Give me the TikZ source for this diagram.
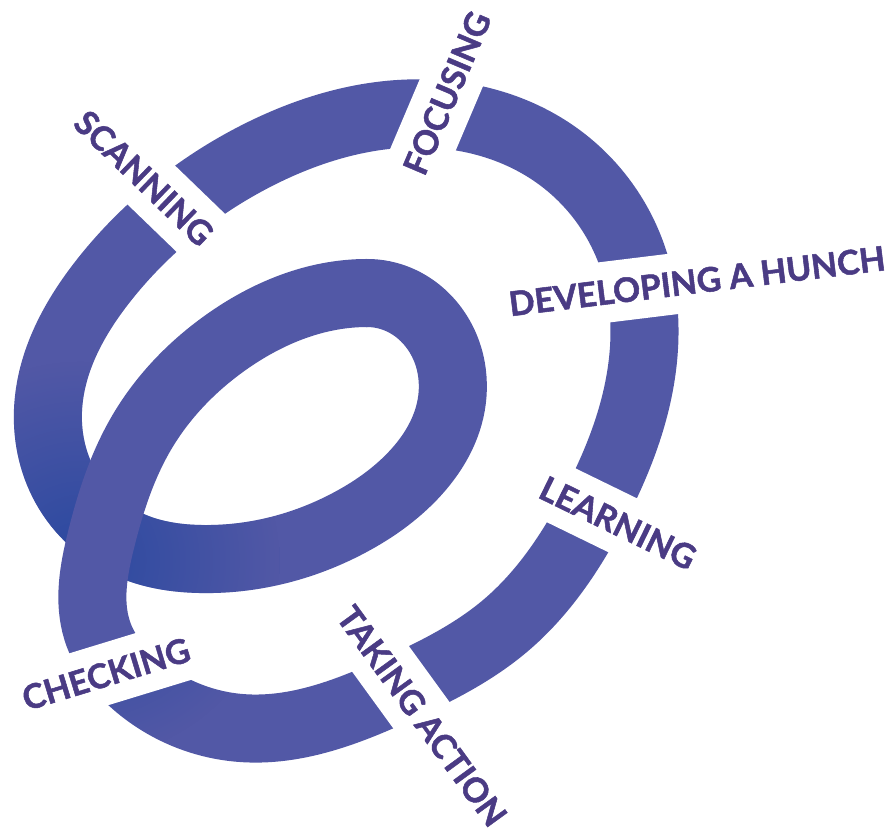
\documentclass[tikz,border=0pt]{standalone}
\usepackage{fontspec}
\setmainfont{Lato}[BoldFeatures={FakeBold=1.5}]
\usetikzlibrary{fadings,hobby}
\definecolor{bandblue}{HTML}{5258A6}
\definecolor{bandshadow}{HTML}{2A49A0}
\definecolor{labelpurple}{HTML}{4A3B84}
\pgfdeclareradialshading{loopshadow}{\pgfpointorigin}{color(0bp)=(pgftransparent!0); color(50bp)=(pgftransparent!100)}
\pgfdeclarefading{loopshadow}{\pgfuseshading{loopshadow}}
\tikzset{
  band/.style={line width=0.68cm, draw=bandblue, use Hobby shortcut},
  stage/.style={fill=white, text=labelpurple, font=\bfseries\fontsize{9.6}{12}\selectfont, inner xsep=0.06cm, inner ysep=0.18cm}
}
\begin{document}
\begin{tikzpicture}[x=0.01cm, y=-0.01cm]
\useasboundingbox (0,0) rectangle (890,830);
\draw[band] ([out angle=0]367,293) .. (452,373) .. (363,515) .. (200,559) .. (137,548) .. (68,491) .. (48,410) .. (104,280) .. (258,155) .. (437,114) .. (559,157) .. (636,268) .. (643,360) .. (594,508) .. (505,626) .. (400,688) .. (241,728) .. (116,664);
\draw[band, draw=bandshadow, path fading=loopshadow, fit fading=false, fading transform={shift={(80,560)}, scale=1.13}] ([out angle=0]367,293) .. (452,373) .. (363,515) .. (200,559) .. (137,548) .. (68,491) .. (48,410) .. (104,280) .. (258,155) .. (437,114) .. (559,157) .. (636,268) .. (643,360) .. (594,508) .. (505,626) .. (400,688) .. (241,728) .. (116,664);
\draw[band] ([out angle=180]367,293) .. (225,343) .. (142,432) .. (101,540) .. (97,630) .. (116,664);
\draw[band] (360,293) -- (374,293);
\node[stage, rotate=-44] (scanning) at (144,178) {SCANNING};
\node[stage, rotate=67] (focusing) at (447,93) {FOCUSING};
\node[stage, rotate=7] (hunch) at (697,281) {DEVELOPING A HUNCH};
\node[stage, rotate=-26] (learning) at (618,523) {LEARNING};
\node[stage, rotate=-54] (action) at (422,716) {TAKING ACTION};
\node[stage, rotate=17] (checking) at (106,674) {CHECKING};
\end{tikzpicture}
\end{document}
